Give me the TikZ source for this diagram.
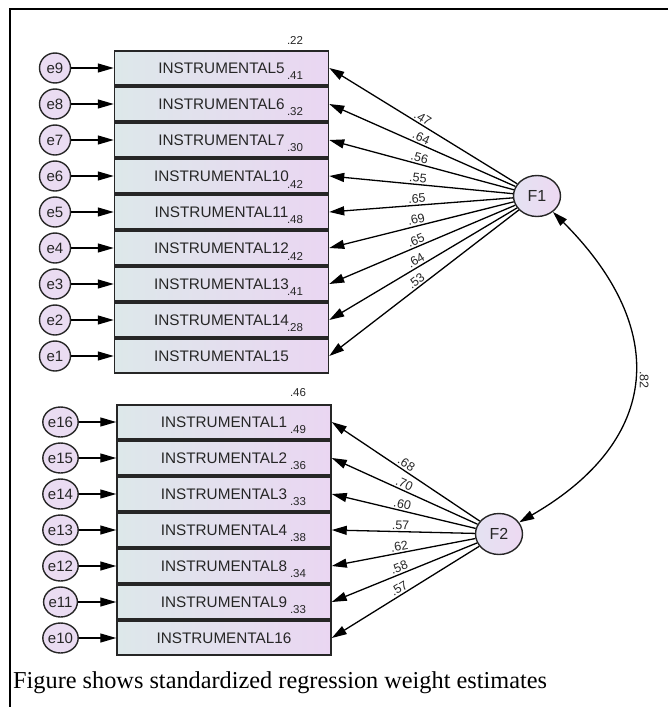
\documentclass[tikz,border=0pt]{standalone}
\usepackage{fontspec}
\setmainfont{Liberation Serif}
\setsansfont{Liberation Sans}
\usetikzlibrary{arrows.meta,shapes.geometric}
\definecolor{boxL}{HTML}{DDE8EA}
\definecolor{boxR}{HTML}{EAD6F2}
\definecolor{errC}{HTML}{EADCF2}
\definecolor{latL}{HTML}{E4E2F2}
\definecolor{latR}{HTML}{EDD9F2}
\definecolor{edge}{HTML}{262626}
\begin{document}
\begin{tikzpicture}[x=1pt,y=1pt,
  obs/.style={draw=edge, line width=1.5pt, left color=boxL, right color=boxR,
    minimum width=214pt, minimum height=34pt, inner sep=0pt,
    font=\sffamily\fontsize{15.3}{15.3}\selectfont, text=black!85},
  err/.style={ellipse, draw=edge, line width=1.4pt, fill=errC,
    minimum width=31pt, minimum height=30pt, inner sep=0pt,
    font=\sffamily\fontsize{15}{15}\selectfont, text=black!85},
  lat/.style={ellipse, draw=edge, line width=1.4pt, left color=latL, right color=latR,
    minimum width=47pt, minimum height=41pt, inner sep=0pt,
    font=\sffamily\fontsize{16}{16}\selectfont, text=black!85},
  arr/.style={draw=black, line width=1.3pt, -{Triangle[length=15pt,width=9pt]}},
  earr/.style={draw=black, line width=1.3pt, -{Triangle[length=16pt,width=9pt]}},
  cov/.style={draw=black, line width=1.3pt, {Triangle[length=15pt,width=9pt]}-{Triangle[length=15pt,width=9pt]}},
  load/.style={font=\sffamily\fontsize{12.5}{12.5}\selectfont, sloped, above, pos=0.52, inner sep=1.5pt, text=black!85},
  rsq/.style={font=\sffamily\fontsize{11.5}{11.5}\selectfont, inner sep=0pt, text=black!85}
]
\useasboundingbox (0,0) rectangle (668,-707);
\draw[line width=2.4pt] (668,-9) -- (10,-9) -- (10,-707);

% latent factors
\node[lat] (F1) at (537,-196) {F1};
\node[lat] (F2) at (499,-534) {F2};

% first group
\foreach \i/\n/\e in {0/5/9,1/6/8,2/7/7,3/10/6,4/11/5,5/12/4,6/13/3,7/14/2,8/15/1}{
  \node[obs] (b\n) at (221.5,{-68-36*\i}) {INSTRUMENTAL\n};
  \node[err] (e\e) at (55,{-68-36*\i}) {e\e};
  \draw[earr] (e\e) -- (b\n);
}
% second group
\foreach \i/\n/\e in {0/1/16,1/2/15,2/3/14,3/4/13,4/8/12,5/9/11,6/16/10}{
  \node[obs] (b\n) at (224,{-422-36*\i}) {INSTRUMENTAL\n};
  \node[err] (e\e) at (60.5,{-422-36*\i}) {e\e};
  \draw[earr] (e\e) -- (b\n);
}

% squared multiple correlations
\node[rsq] (r0) at (295,-40) {.22};
\node[rsq] (r1) at (295,-76) {.41};
\node[rsq] (r2) at (295,-112) {.32};
\node[rsq] (r3) at (295,-148) {.30};
\node[rsq] (r4) at (295,-184) {.42};
\node[rsq] (r5) at (295,-220) {.48};
\node[rsq] (r6) at (295,-256) {.42};
\node[rsq] (r7) at (295,-292) {.41};
\node[rsq] (r8) at (295,-328) {.28};
\node[rsq] (s0) at (298,-393) {.46};
\node[rsq] (s1) at (298,-430) {.49};
\node[rsq] (s2) at (298,-466) {.36};
\node[rsq] (s3) at (298,-502) {.33};
\node[rsq] (s4) at (298,-538) {.38};
\node[rsq] (s5) at (298,-574) {.34};
\node[rsq] (s6) at (298,-610) {.33};

% loadings
\foreach \n/\v in {5/.47,6/.64,7/.56,10/.55,11/.65,12/.69,13/.65,14/.64,15/.53}{
  \draw[arr] (F1) -- (b\n.east) node[load] {\v};
}
\foreach \n/\v in {1/.68,2/.70,3/.60,4/.57,8/.62,9/.58,16/.57}{
  \draw[arr] (F2) -- (b\n.east) node[load] {\v};
}

% covariance
\draw[cov] (F1) to[out=-45, in=30, looseness=1.35] coordinate[pos=0.5] (mid) (F2);
\node[rotate=-90, font=\sffamily\fontsize{12.5}{12.5}\selectfont, inner sep=0pt, text=black!85] (c82) at ([xshift=11pt]mid) {.82};

% caption
\node[anchor=west, font=\rmfamily\fontsize{24.3}{24.3}\selectfont, inner sep=0pt] (cap) at (13,-683)
  {Figure shows standardized regression weight estimates};
\end{tikzpicture}
\end{document}
